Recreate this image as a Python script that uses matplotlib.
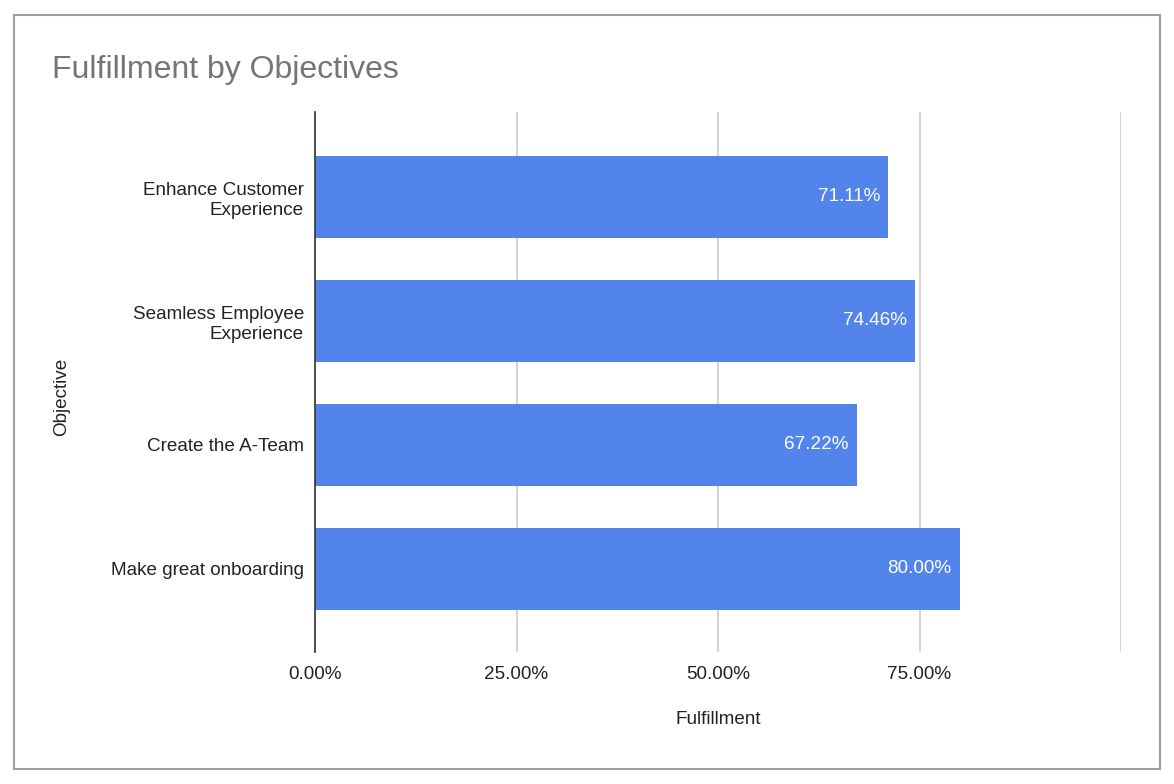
import matplotlib
matplotlib.use("Agg")
import matplotlib.pyplot as plt
from matplotlib.patches import Rectangle

categories = ["Enhance Customer\nExperience", "Seamless Employee\nExperience",
              "Create the A-Team", "Make great onboarding"]
values = [71.11, 74.46, 67.22, 80.00]
bar_labels = ["71.11%", "74.46%", "67.22%", "80.00%"]
xticks = [0, 25, 50, 75, 100]
xtick_labels = ["0.00%", "25.00%", "50.00%", "75.00%", ""]

plt.rcParams['font.family'] = ['Liberation Sans', 'DejaVu Sans']

W, H = 1174, 784
fig = plt.figure(figsize=(W / 100, H / 100), dpi=100)
fig.patch.set_facecolor("white")

# outer border
fig.add_artist(Rectangle((14 / W, 1 - 769 / H), (1160 - 14) / W, (769 - 15) / H,
                         transform=fig.transFigure, fill=False,
                         edgecolor="#9e9e9e", linewidth=1.5))

fig.text(52 / W, 1 - 70 / H, "Fulfillment by Objectives", fontsize=23,
         color="#757575", va="center", ha="left")

left, right, top, bottom = 315, 1121, 112, 652
ax = fig.add_axes([left / W, 1 - bottom / H, (right - left) / W, (bottom - top) / H])

y = list(range(len(categories)))
ax.barh(y, values, height=0.66, color="#5384EC", zorder=3)
ax.set_xlim(0, 100)
ax.set_ylim(3.67, -0.685)
ax.set_yticks(y)
ax.set_yticklabels(categories, fontsize=13.6, color="#222222", linespacing=1.25)
ax.set_xticks(xticks)
ax.set_xticklabels(xtick_labels, fontsize=13.6, color="#222222")
ax.tick_params(axis="both", length=0)
ax.tick_params(axis="x", pad=10)
ax.tick_params(axis="y", pad=8)
ax.grid(axis="x", color="#cccccc", linewidth=1.2, zorder=0)
for s in ["top", "right", "bottom"]:
    ax.spines[s].set_visible(False)
ax.spines["left"].set_color("#333333")
ax.spines["left"].set_linewidth(1.2)
ax.spines["left"].set_zorder(4)

for yi, v, lab in zip(y, values, bar_labels):
    ax.text(v - 1.0, yi, lab, color="white", fontsize=13.6, va="center", ha="right", zorder=5)

fig.text(718 / W, 1 - 719 / H, "Fulfillment", fontsize=13.6,
         color="#222222", ha="center", va="center")
fig.text(62 / W, 1 - 397 / H, "Objective", fontsize=13.6, color="#222222",
         rotation=90, ha="center", va="center")

fig.savefig("out.png", dpi=100)
